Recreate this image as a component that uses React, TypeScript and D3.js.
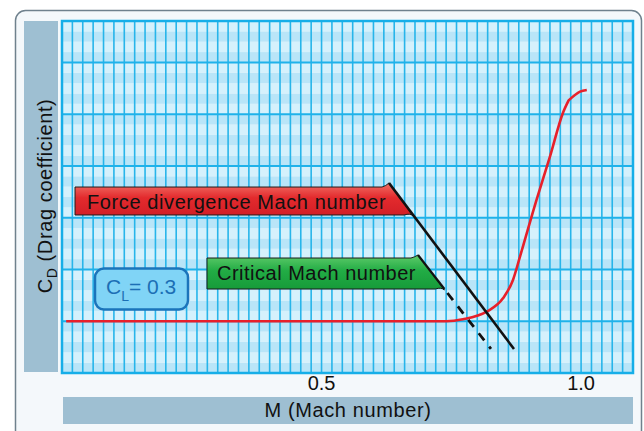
import React from "react";
import * as d3 from "d3";

// ---- data ----
const machTicks = [0.5, 1.0];
const curveMach = [0.008, 0.741, 0.7725, 0.818, 0.8495, 0.8688, 0.8823, 0.914, 0.94, 0.965, 0.976, 0.998, 1.011];
const curveCD = [0.5, 0.5, 0.519, 0.592, 0.721, 0.899, 1.124, 1.671, 2.09, 2.512, 2.633, 2.718, 2.734];
const kneeIndex = 10;
const forceDivMach = [0.63, 0.8707];
const forceDivCD = [1.836, 0.232];
const criticalMach = [0.6858, 0.8264];
const criticalCD = [1.14, 0.232];
const labelForce = "Force divergence Mach number";
const labelCritical = "Critical Mach number";
const xTitle = "M (Mach number)";

const W = 644;
const H = 431;
const FONT = "'Liberation Sans', Arial, Helvetica, sans-serif";

export default function App() {
  const x = d3.scaleLinear().domain([0, 1.1]).range([62, 633]);
  const y = d3.scaleLinear().domain([0, 3.4]).range([373, 21]);

  const minorX = d3.range(0, 56).map((i) => i * 0.02);
  const bands = d3.range(0, 34);
  const majorY = [0.5, 1.0, 1.5, 2.0, 2.5, 3.0];

  const curvePts: [number, number][] = curveMach.map((m, i) => [m, curveCD[i]]);
  const lowerPts = curvePts.slice(0, kneeIndex + 1);
  const upperPts = curvePts.slice(kneeIndex);
  const line = d3
    .line<[number, number]>()
    .x((d) => x(d[0]))
    .y((d) => y(d[1]))
    .curve(d3.curveMonotoneX);
  const curveD = (line(lowerPts) || "") + (line(upperPts) || "").replace(/^M/, "L");

  // force divergence line
  const fx0 = x(forceDivMach[0]), fy0 = y(forceDivCD[0]);
  const fx1 = x(forceDivMach[1]), fy1 = y(forceDivCD[1]);
  // critical line
  const cx0 = x(criticalMach[0]), cy0 = y(criticalCD[0]);
  const cx1 = x(criticalMach[1]), cy1 = y(criticalCD[1]);

  const atY = (x0: number, y0: number, x1: number, y1: number, yy: number) =>
    x0 + ((yy - y0) / (y1 - y0)) * (x1 - x0);

  const redTop = 187, redBottom = 215, redLeft = 75;
  const redBx = atY(fx0, fy0, fx1, fy1, redBottom);
  const redPath = `M${redLeft},${redTop} L${fx0 - 7},${redTop} Q${fx0 - 3},${redTop - 1} ${fx0},${fy0} L${redBx},${redBottom + 1} Q${redBx - 3},${redBottom - 2} ${redBx - 9},${redBottom} L${redLeft},${redBottom} Z`;

  const grTop = 258, grBottom = 289, grLeft = 207;
  const grBx = atY(cx0, cy0, cx1, cy1, grBottom);
  const grPath = `M${grLeft},${grTop} L${cx0 - 7},${grTop} Q${cx0 - 3},${grTop - 1} ${cx0},${cy0} L${grBx},${grBottom + 1} Q${grBx - 3},${grBottom - 2} ${grBx - 9},${grBottom} L${grLeft},${grBottom} Z`;

  return (
    <svg
      width={W}
      height={H}
      style={{ position: "absolute", left: 0, top: 0, fontFamily: FONT }}
    >
      <defs>
        <linearGradient id="gRed" x1="0" y1="0" x2="0" y2="1">
          <stop offset="0" stopColor="#f07066" />
          <stop offset="0.45" stopColor="#e32a2d" />
          <stop offset="1" stopColor="#d21f27" />
        </linearGradient>
        <linearGradient id="gGreen" x1="0" y1="0" x2="0" y2="1">
          <stop offset="0" stopColor="#5fcb6a" />
          <stop offset="0.45" stopColor="#22ac45" />
          <stop offset="1" stopColor="#169a39" />
        </linearGradient>
      </defs>
      <rect x={0} y={0} width={W} height={H} fill="#ffffff" />
      {/* outer panel */}
      <rect x={15.5} y={10.5} width={626} height={440} rx={10} fill="#f4f8fb" stroke="#6f818d" strokeWidth={1.5} />

      {/* y title strip */}
      <rect x={24} y={21} width={34} height={351} fill="#9ebfd2" />
      {/* x title strip */}
      <rect x={63} y={397} width={570} height={27} fill="#9ebfd2" />

      {/* plot bands */}
      {bands.map((i) => (
        <rect
          key={"b" + i}
          x={x(0)}
          y={y((i + 1) * 0.1)}
          width={x(1.1) - x(0)}
          height={y(i * 0.1) - y((i + 1) * 0.1)}
          fill={i % 2 === 0 ? "#b9e5f8" : "#d5f1fc"}
        />
      ))}
      {/* vertical grid lines */}
      {minorX.map((m, i) => (
        <line key={"v" + i} x1={x(m)} x2={x(m)} y1={y(3.4)} y2={y(0)} stroke="#27b5ea" strokeWidth={1.6} />
      ))}
      {/* major horizontal lines */}
      {majorY.map((v) => (
        <line key={"h" + v} x1={x(0)} x2={x(1.1)} y1={y(v)} y2={y(v)} stroke="#1fb2ea" strokeWidth={2} />
      ))}
      {/* plot border */}
      <rect x={x(0)} y={y(3.4)} width={x(1.1) - x(0)} height={y(0) - y(3.4)} fill="none" stroke="#16aee8" strokeWidth={2.5} />

      {/* CL box */}
      <rect x={95} y={268.5} width={93} height={41} rx={9} fill="#80d4f6" stroke="#1b74bb" strokeWidth={2.5} />
      <text x={106} y={294} fontSize={21} fill="#1c6fb5">
        C
        <tspan fontSize={14} dy={7}>L</tspan>
        <tspan fontSize={21} dy={-7}>= 0.3</tspan>
      </text>

      {/* drag curve */}
      <path d={curveD} fill="none" stroke="#e8202a" strokeWidth={2.6} strokeLinejoin="round" />

      {/* critical Mach label and line */}
      <path d={grPath} fill="url(#gGreen)" stroke="#1a1a1a" strokeWidth={1} />
      <line x1={cx0} y1={cy0} x2={grBx} y2={grBottom} stroke="#111" strokeWidth={2.2} />
      <line x1={grBx + 3} y1={grBottom + 4} x2={cx1} y2={cy1} stroke="#111" strokeWidth={2.8} strokeDasharray="9,8" />
      <text x={217} y={279.5} fontSize={20} letterSpacing={0.5} fill="#111">{labelCritical}</text>

      {/* force divergence label and line */}
      <path d={redPath} fill="url(#gRed)" stroke="#1a1a1a" strokeWidth={1} />
      <line x1={fx0} y1={fy0} x2={fx1} y2={fy1} stroke="#111" strokeWidth={2.6} />
      <text x={87} y={208.5} fontSize={20} letterSpacing={0.6} fill="#111">{labelForce}</text>

      {/* x tick labels */}
      {machTicks.map((t) => (
        <text key={"t" + t} x={x(t)} y={390} fontSize={20} textAnchor="middle" fill="#111">
          {t.toFixed(1)}
        </text>
      ))}
      {/* x title */}
      <text x={348} y={416.5} fontSize={20} letterSpacing={0.6} textAnchor="middle" fill="#111">
        {xTitle}
      </text>
      {/* y title */}
      <text transform="translate(52,196) rotate(-90)" fontSize={20} letterSpacing={0.6} textAnchor="middle" fill="#111">
        C<tspan fontSize={14} dy={5}>D</tspan>
        <tspan dy={-5}> (Drag coefficient)</tspan>
      </text>
    </svg>
  );
}
